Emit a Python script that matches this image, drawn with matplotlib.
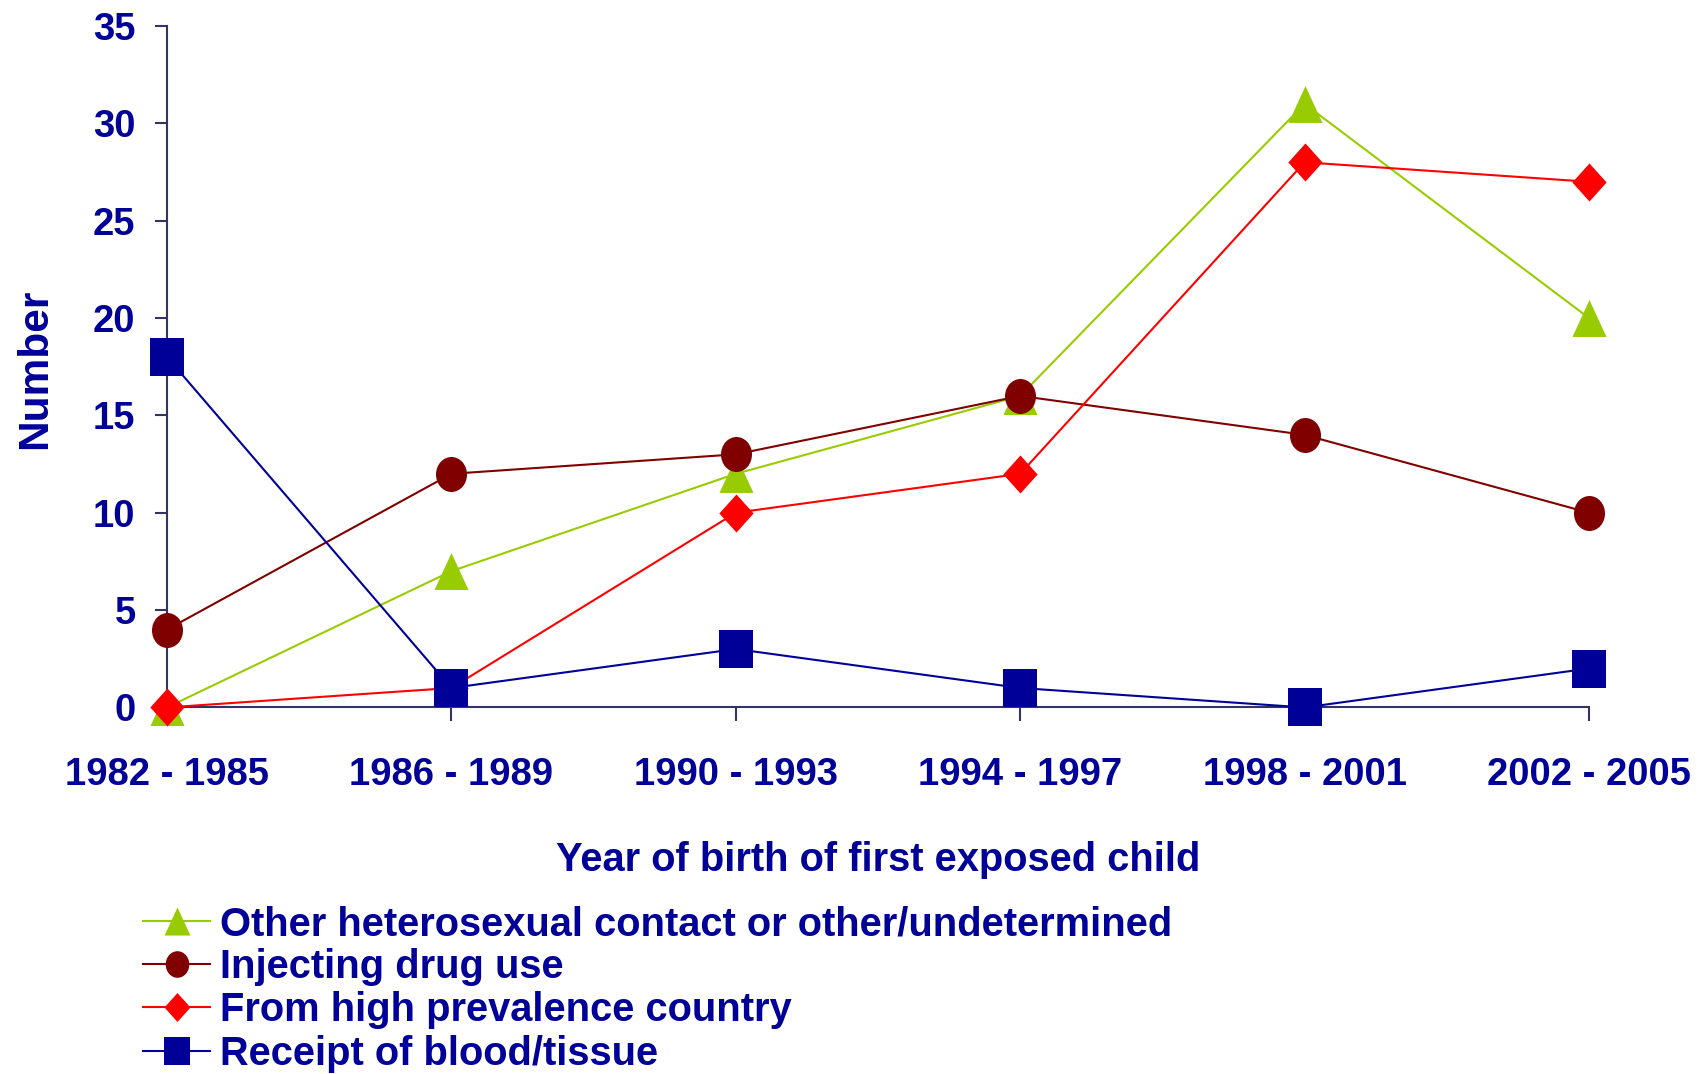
import matplotlib
matplotlib.use("Agg")
import matplotlib.pyplot as plt
from matplotlib.path import Path
from matplotlib.transforms import Affine2D
from matplotlib.lines import Line2D

# Data
periods = ["1982 - 1985", "1986 - 1989", "1990 - 1993",
           "1994 - 1997", "1998 - 2001", "2002 - 2005"]
other_hetero = [0, 7, 12, 16, 31, 20]
injecting_drug = [4, 12, 13, 16, 14, 10]
high_prevalence = [0, 1, 10, 12, 28, 27]
blood_tissue = [18, 1, 3, 1, 0, 2]

labels = ["Other heterosexual contact or other/undetermined",
          "Injecting drug use",
          "From high prevalence country",
          "Receipt of blood/tissue"]

TEXT = "#000099"
AXIS = "#333366"

plt.rcParams["font.family"] = ["Liberation Sans", "DejaVu Sans"]
plt.rcParams["font.weight"] = "bold"

# Slightly tall markers, as in the original (stretched) Excel picture
tri = Path([(0, 0.5), (0.46, -0.5), (-0.46, -0.5), (0, 0.5)], closed=True)
dia = Path([(0, 0.5), (0.45, 0), (0, -0.5), (-0.45, 0), (0, 0.5)], closed=True)
sq = Path([(-0.45, -0.5), (0.45, -0.5), (0.45, 0.5), (-0.45, 0.5), (-0.45, -0.5)],
          closed=True)
circ = Path.unit_circle().transformed(Affine2D().scale(0.443, 0.5))

series = [
    (other_hetero, "#99CC00", tri, 26.6),
    (injecting_drug, "#800000", circ, 25.2),
    (high_prevalence, "#FF0000", dia, 27.4),
    (blood_tissue, "#000099", sq, 27.4),
]

fig = plt.figure(figsize=(17.04, 10.74), dpi=100)
ax = fig.add_axes([0.098, 0.3413, 0.8345, 0.6345])

x = list(range(len(periods)))
handles = []
for (vals, col, mk, ms), lab in zip(series, labels):
    ax.plot(x, vals, color=col, lw=1.5, marker=mk, ms=ms, mew=0,
            clip_on=False, zorder=3)
    handles.append(Line2D([], [], color=col, lw=1.5, marker=mk,
                          ms=ms * 0.76, mew=0))

ax.set_xlim(0, len(periods) - 1)
ax.set_ylim(0, 35)
ax.set_yticks(range(0, 36, 5))
ax.set_xticks(x)
ax.set_xticklabels(periods)

for s in ["top", "right"]:
    ax.spines[s].set_visible(False)
for s in ["left", "bottom"]:
    ax.spines[s].set_color(AXIS)
    ax.spines[s].set_linewidth(1.5)

ax.tick_params(axis="y", direction="out", length=8.6, width=1.5, color=AXIS,
               pad=14, labelsize=27.5, labelcolor=TEXT)
ax.tick_params(axis="x", direction="out", length=10, width=1.5, color=AXIS,
               pad=26, labelsize=27.5, labelcolor=TEXT)

fig.text(878 / 1704, 1 - 860 / 1074, "Year of birth of first exposed child",
         ha="center", va="center", fontsize=28.7, color=TEXT, fontweight="bold")
fig.text(35 / 1704, 1 - 369 / 1074, "Number", rotation=90,
         ha="center", va="center", fontsize=30.5, color=TEXT, fontweight="bold")

leg = fig.legend(handles, labels, loc="upper left",
                 bbox_to_anchor=(143 / 1704, 1 - 905 / 1074),
                 frameon=False, fontsize=28.7, handlelength=1.69,
                 handletextpad=0.25, labelspacing=0.13, borderpad=0,
                 borderaxespad=0)
for t in leg.get_texts():
    t.set_color(TEXT)

fig.savefig("out.png", dpi=100)
